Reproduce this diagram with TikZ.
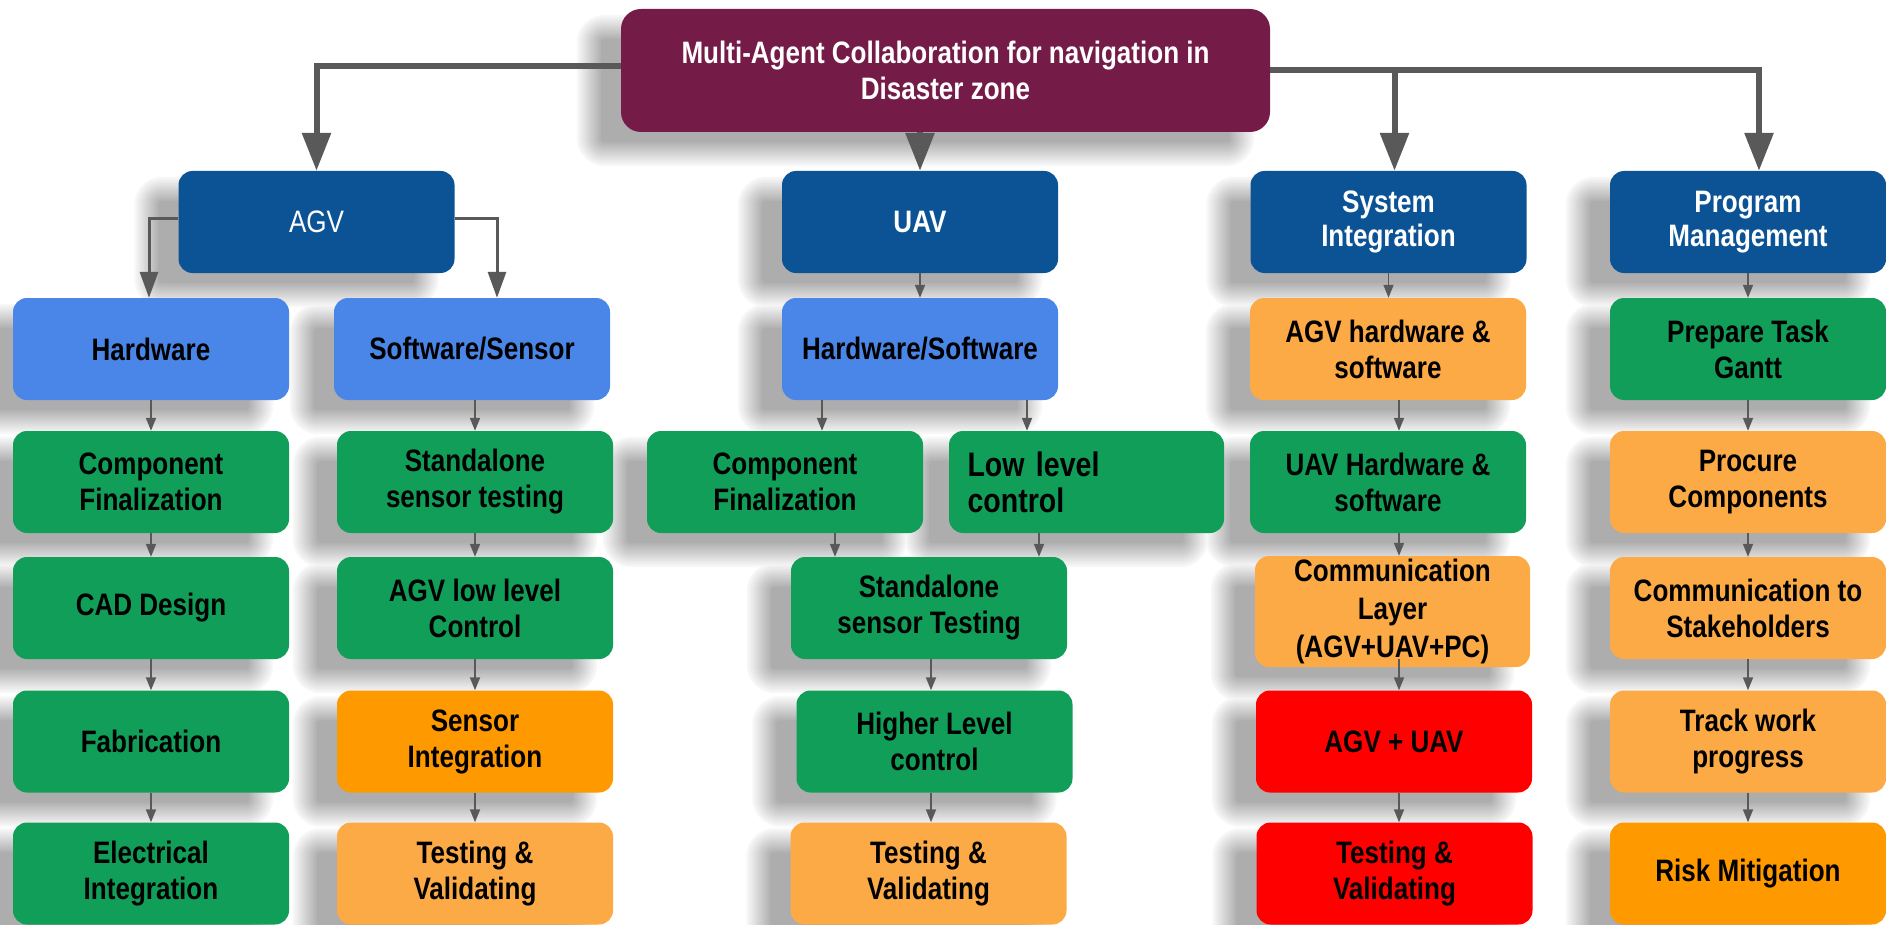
\documentclass[tikz,border=0pt]{standalone}
\usepackage{fontspec}
\setmainfont{Liberation Sans}[FakeStretch=0.84]
\usetikzlibrary{arrows.meta}

\pgfdeclarelayer{background}
\pgfsetlayers{background,main}

\definecolor{berry}{HTML}{741B47}
\definecolor{navy}{HTML}{0B5394}
\definecolor{sky}{HTML}{4A86E8}
\definecolor{leaf}{HTML}{119E59}
\definecolor{amber}{HTML}{FCAA45}
\definecolor{tangerine}{HTML}{FF9900}
\definecolor{alarm}{HTML}{FF0000}
\definecolor{wire}{HTML}{595959}

\tikzset{
  box/.style={rounded corners=14pt, minimum width=276pt, minimum height=102pt,
    inner sep=0pt, align=center, text=black,
    font=\bfseries\fontsize{31}{36}\selectfont},
  head/.style={box, fill=navy, text=white},
  part/.style={box, fill=sky},
  done/.style={box, fill=leaf},
  busy/.style={box, fill=amber},
  hot/.style={box, fill=tangerine},
  late/.style={box, fill=alarm},
  bigarrow/.style={draw=wire, line width=6pt,
    -{Triangle[width=28pt,length=38pt]}},
  midarrow/.style={draw=wire, line width=3pt,
    -{Triangle[width=18pt,length=26pt]}},
  smallarrow/.style={draw=wire, line width=1.8pt,
    -{Triangle[width=10pt,length=13pt]}},
}

\begin{document}
\begin{tikzpicture}[x=1pt,y=-1pt]
\useasboundingbox (0,0) rectangle (1886,925);

% root
\node[box, fill=berry, text=white, minimum width=649pt, minimum height=123pt,
  rounded corners=20pt] (root) at (945.5,70.5)
  {Multi-Agent Collaboration for navigation in\\Disaster zone};

% Program Management column
\node[head] (pm) at (1748,222) {\raisebox{-4pt}{\shortstack{Program\\[3pt]Management}}};
\node[done] (gantt) at (1748,349) {Prepare Task\\Gantt};
\node[busy] (proc) at (1748,482) {Procure\\Components};
\node[busy] (stake) at (1748,608) {Communication to\\Stakeholders};
\node[busy] (track) at (1748,741.5) {Track work\\progress};
\node[hot] (risk) at (1748,873.5) {Risk Mitigation};

% System Integration column
\node[head] (sys) at (1388.5,222) {\raisebox{-4pt}{\shortstack{System\\[3pt]Integration}}};
\node[busy] (agvhs) at (1388,349) {AGV hardware \&\\software};
\node[done] (uavhs) at (1388,482) {UAV Hardware \&\\software};
\node[busy, minimum width=275pt, minimum height=111pt, inner sep=0pt] (comm) at (1392.5,611.5)
  {Communication\\[2pt]Layer\\[2pt](AGV+UAV+PC)};
\node[late] (agvuav) at (1394,741.5) {AGV + UAV};
\node[late] (tvs) at (1394.5,873.5) {Testing \&\\Validating};

% UAV column
\node[head] (uav) at (920,222) {UAV};
\node[part] (hws) at (920,349) {Hardware/Software};
\node[done, minimum width=275pt, text width=238pt, align=left,
  font=\bfseries\fontsize{34}{36}\selectfont] (llc) at (1086.5,482)
  {Low level\\control};
\node[done] (cfu) at (785,482) {Component\\Finalization};
\node[done] (sstu) at (929,608) {Standalone\\sensor Testing};
\node[done] (hlc) at (934.5,741.5) {Higher Level\\control};
\node[busy] (tvu) at (928.5,873.5) {Testing \&\\Validating};

% AGV columns
\node[head, font=\fontsize{31}{36}\selectfont] (agv) at (316.5,222) {AGV};
\node[part] (sws) at (472,349) {Software/Sensor};
\node[done] (ssta) at (475,482) {Standalone\\sensor testing};
\node[done] (agvll) at (475,608) {AGV low level\\Control};
\node[hot] (sensint) at (475,741.5) {Sensor\\Integration};
\node[busy] (tva) at (475,873.5) {Testing \&\\Validating};

\node[part] (hw) at (151,349) {Hardware};
\node[done] (cfa) at (151,482) {Component\\Finalization};
\node[done] (cad) at (151,608) {CAD Design};
\node[done] (fab) at (151,741.5) {Fabrication};
\node[done] (elec) at (151,873.5) {Electrical\\Integration};

% soft drop shadows: nested rounded rectangles, lightest and widest first,
% so that neighbouring shadows merge into one even grey
\begin{pgfonlayer}{background}
\foreach \k in {0,...,12} {
  \pgfmathsetmacro\d{14-2*\k}
  \pgfmathsetmacro\g{3+29*\k/12}
  \pgfmathsetmacro\r{max(28-2*\k,2)}
  \foreach \n in {root,pm,gantt,proc,stake,track,risk,sys,agvhs,uavhs,comm,
                  agvuav,tvs,uav,hws,llc,cfu,sstu,hlc,tvu,agv,sws,ssta,agvll,
                  sensint,tva,hw,cfa,cad,fab,elec} {
    \fill[black!\g, rounded corners=\r pt]
      ([xshift=-30pt-\d pt, yshift=-20pt+\d pt]\n.north west) rectangle
      ([xshift=-30pt+\d pt, yshift=-20pt-\d pt]\n.south east);
  }
}
\end{pgfonlayer}

% links from the root
\draw[bigarrow] ([yshift=4pt]root.west) -| (agv.north);
\draw[bigarrow] (uav.north |- root.south) -- (uav.north);
\draw[bigarrow] (root.east) -| ([xshift=11pt]pm.north);
\draw[bigarrow] ([xshift=6pt]sys.north |- root.east) -- ([xshift=6pt]sys.north);

% AGV branches
\draw[midarrow] ([yshift=3pt]agv.west) -| ([xshift=-2pt]hw.north);
\draw[midarrow] ([yshift=3pt]agv.east) -| ([xshift=25pt]sws.north);

% AGV hardware chain
\draw[smallarrow] (hw.south) -- (cfa.north);
\draw[smallarrow] (cfa.south) -- (cad.north);
\draw[smallarrow] (cad.south) -- (fab.north);
\draw[smallarrow] (fab.south) -- (elec.north);

% AGV software chain
\draw[smallarrow] (ssta.north |- sws.south) -- (ssta.north);
\draw[smallarrow] (ssta.south) -- (agvll.north);
\draw[smallarrow] (agvll.south) -- (sensint.north);
\draw[smallarrow] (sensint.south) -- (tva.north);

% UAV chain
\draw[smallarrow] (uav.south) -- (hws.north);
\draw[smallarrow] ([xshift=-98pt]hws.south) -- ([xshift=-98pt]hws.south |- cfu.north);
\draw[smallarrow] ([xshift=107pt]hws.south) -- ([xshift=107pt]hws.south |- llc.north);
\draw[smallarrow] ([xshift=50pt]cfu.south) -- ([xshift=50pt]cfu.south |- sstu.north);
\draw[smallarrow] ([xshift=-47.5pt]llc.south) -- ([xshift=-47.5pt]llc.south |- sstu.north);
\draw[smallarrow] ([xshift=2pt]sstu.south) -- ([xshift=2pt]sstu.south |- hlc.north);
\draw[smallarrow] ([xshift=-3.5pt]hlc.south) -- ([xshift=-3.5pt]hlc.south |- tvu.north);

% System integration chain
\draw[smallarrow] (sys.south) -- (sys.south |- agvhs.north);
\draw[smallarrow] ([xshift=11pt]agvhs.south) -- ([xshift=11pt]agvhs.south |- uavhs.north);
\draw[smallarrow] ([xshift=11pt]uavhs.south) -- ([xshift=11pt]uavhs.south |- comm.north);
\draw[smallarrow] ([xshift=6.5pt,yshift=8pt]comm.south) -- ([xshift=6.5pt]comm.south |- agvuav.north);
\draw[smallarrow] ([xshift=5pt]agvuav.south) -- ([xshift=5pt]agvuav.south |- tvs.north);

% Program management chain
\draw[smallarrow] (pm.south) -- (gantt.north);
\draw[smallarrow] (gantt.south) -- (proc.north);
\draw[smallarrow] (proc.south) -- (stake.north);
\draw[smallarrow] (stake.south) -- (track.north);
\draw[smallarrow] (track.south) -- (risk.north);
\end{tikzpicture}
\end{document}
